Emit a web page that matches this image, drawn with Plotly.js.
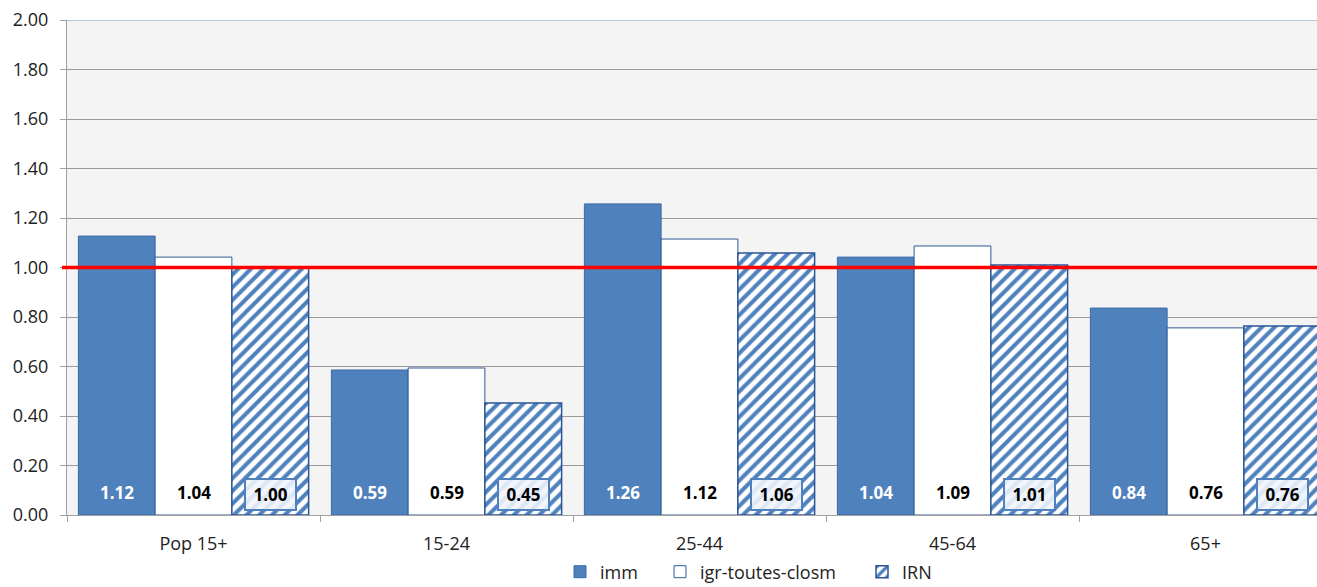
<!DOCTYPE html>
<html><head><meta charset="utf-8">
<script src="https://cdn.plot.ly/plotly-3.0.1.min.js"></script>
<style>html,body{margin:0;padding:0;overflow:hidden;background:#fff}</style>
</head><body>
<div id="chart" style="width:1340px;height:587px"></div>
<script>
const categories = ["Pop 15+", "15-24", "25-44", "45-64", "65+"];
const immValues = [1.127, 0.586, 1.257, 1.042, 0.836];
const igrValues = [1.042, 0.594, 1.115, 1.087, 0.756];
const irnValues = [0.998, 0.453, 1.059, 1.010, 0.764];
const immLabels = ["1.12", "0.59", "1.26", "1.04", "0.84"];
const igrLabels = ["1.04", "0.59", "1.12", "1.09", "0.76"];
const irnLabels = ["1.00", "0.45", "1.06", "1.01", "0.76"];
const refValue = 1.0;

const FONT = "Open Sans, Liberation Sans, sans-serif";
const W = 1340, H = 587;
const bargap = 0.09;
const bw = (1 - bargap) / 3;

const traces = [
  {type: "bar", name: "imm", x: categories, y: immValues, legend: "legend",
   marker: {color: "#4f81bd", line: {color: "#3c6aa6", width: 1}}},
  {type: "bar", name: "igr-toutes-closm", x: categories, y: igrValues, legend: "legend2",
   marker: {color: "#ffffff", line: {color: "#2f5a96", width: 1}}},
  {type: "bar", name: "IRN", x: categories, y: irnValues, legend: "legend3",
   marker: {color: "#ffffff", line: {color: "#2a5596", width: 1.5},
            pattern: {shape: "/", fgcolor: "#4f81bd", bgcolor: "#ffffff", size: 9, solidity: 0.45}}}
];

const annotations = [];
categories.forEach((c, i) => {
  annotations.push({x: i - bw, y: 0, xref: "x", yref: "y", text: "<b>" + immLabels[i] + "</b>",
    showarrow: false, yanchor: "bottom", yshift: 9, font: {family: FONT, size: 17, color: "#ffffff"}});
  annotations.push({x: i, y: 0, xref: "x", yref: "y", text: "<b>" + igrLabels[i] + "</b>",
    showarrow: false, yanchor: "bottom", yshift: 9, font: {family: FONT, size: 17, color: "#000000"}});
  annotations.push({x: i + bw, y: 0, xref: "x", yref: "y", text: "&nbsp;<b>" + irnLabels[i] + "</b>&nbsp;",
    showarrow: false, yanchor: "bottom", yshift: 4, bgcolor: "rgba(240,245,252,0.88)",
    bordercolor: "#4f81bd", borderwidth: 2, borderpad: 3,
    font: {family: FONT, size: 17, color: "#000000"}});
});

function legendAt(px) {
  return {orientation: "h", xref: "container", yref: "container", x: px / W, xanchor: "left",
          y: (H - 572) / H, yanchor: "middle", bgcolor: "rgba(0,0,0,0)",
          font: {family: FONT, size: 18, color: "#222"}, itemwidth: 30};
}

const layout = {
  width: W, height: H,
  margin: {l: 67, r: 8, t: 20, b: 72},
  paper_bgcolor: "#ffffff", plot_bgcolor: "#f4f4f4",
  barmode: "group", bargap: bargap, bargroupgap: 0,
  font: {family: FONT, size: 18, color: "#222222"},
  xaxis: {type: "category", showgrid: false, showline: true, linecolor: "#a0a0a0", linewidth: 1,
          ticks: "outside", ticklen: 6, tickcolor: "#a0a0a0", tickson: "boundaries",
          ticklabelstandoff: 12,
          tickfont: {family: FONT, size: 18, color: "#222"}},
  yaxis: {range: [0, 2], dtick: 0.2, tickformat: ".2f", showgrid: true, gridcolor: "#9a9a9a", gridwidth: 1,
          showline: true, linecolor: "#a0a0a0", ticks: "outside", ticklen: 6, tickcolor: "#a0a0a0",
          ticklabelstandoff: 8,
          zeroline: false, tickfont: {family: FONT, size: 18, color: "#222"}},
  showlegend: true,
  legend: legendAt(560),
  legend2: legendAt(660),
  legend3: legendAt(862),
  shapes: [
    {type: "line", xref: "paper", yref: "y", x0: 0, x1: 1, y0: 2, y1: 2, line: {color: "#9db5d9", width: 1.5}},
    {type: "line", xref: "paper", yref: "y", x0: -0.004, x1: 1, y0: refValue, y1: refValue, line: {color: "#ff0000", width: 3.5}}
  ],
  annotations: annotations
};

Plotly.newPlot("chart", traces, layout, {displayModeBar: false, staticPlot: true});
</script>
</body></html>
